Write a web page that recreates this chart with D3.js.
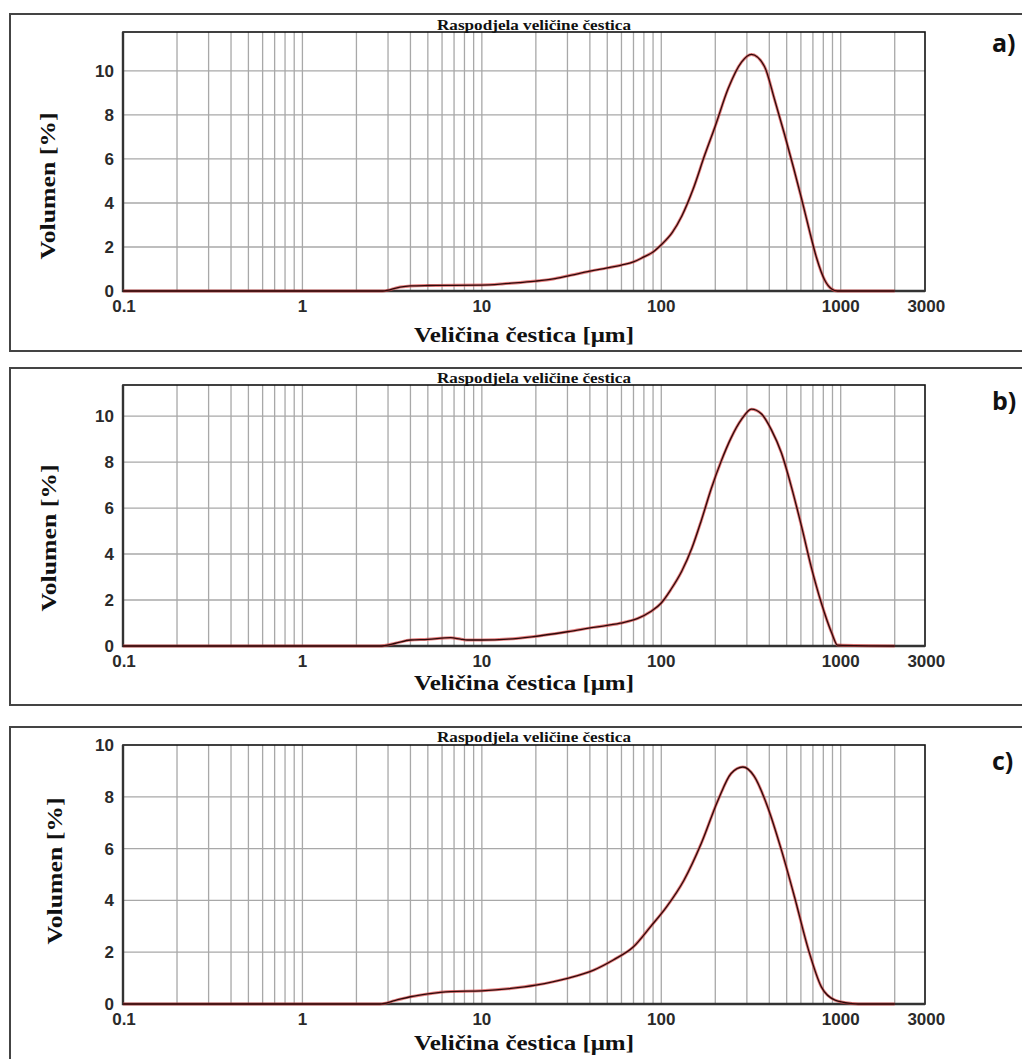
<!DOCTYPE html>
<html lang="hr">
<head>
  <meta charset="UTF-8">
  <title>Raspodjela veličine čestica</title>
  <script src="https://d3js.org/d3.v7.min.js"></script>
  <style>
    body { margin: 0; background: #fff; }
    .grid line { stroke: #a8a8a8; stroke-width: 1.3px; }
    .tick-label { font-family: 'Liberation Sans', Arial, sans-serif; font-weight: bold; font-size: 17px; fill: #2a2a2a; }
    .serif { font-family: 'Liberation Serif', 'Times New Roman', serif; fill: #111; }
    .letter { font-family: 'Open Sans', 'Liberation Sans', sans-serif; font-weight: 700; font-size: 25px; fill: #111; }
  </style>
</head>
<body>
  <svg width="1022" height="1059"></svg>
  <script>
    // particle size [µm] and volume [%]
    const sizeA = [0.1, 2.8, 3.5, 4, 5, 7, 10, 13, 16, 20, 25, 30, 40, 50, 60, 70, 80, 90, 100, 115, 130, 150, 175, 200, 236, 280, 318, 376, 428, 487, 546, 605, 662, 734, 814, 891, 960, 2000];
    const volA  = [0, 0, 0.18, 0.23, 0.25, 0.26, 0.27, 0.32, 0.38, 0.45, 0.55, 0.68, 0.9, 1.05, 1.18, 1.32, 1.55, 1.77, 2.1, 2.65, 3.4, 4.6, 6.2, 7.5, 9.2, 10.4, 10.75, 10.2, 8.7, 7.1, 5.6, 4.2, 2.9, 1.5, 0.5, 0.09, 0, 0];

    const sizeB = [0.1, 2.7, 3.3, 4, 5, 6.7, 7.6, 8.3, 10, 14, 19, 30, 42, 59, 74, 87, 100, 113, 130, 148, 167, 190, 216, 245, 280, 318, 361, 411, 467, 532, 605, 687, 780, 891, 960, 2000];
    const volB  = [0, 0, 0.12, 0.26, 0.29, 0.36, 0.3, 0.26, 0.26, 0.3, 0.4, 0.62, 0.81, 0.99, 1.2, 1.49, 1.87, 2.45, 3.25, 4.25, 5.45, 6.85, 8.05, 9.05, 9.85, 10.3, 10.1, 9.4, 8.4, 6.9, 5.2, 3.4, 1.87, 0.57, 0.04, 0];

    const sizeC = [0.1, 2.7, 3.3, 4, 5, 6.7, 10, 14.5, 20, 30, 42, 54, 70, 87, 107, 134, 167, 208, 245, 285, 329, 392, 467, 553, 662, 780, 930, 1150, 1250, 2000];
    const volC  = [0, 0, 0.14, 0.28, 0.39, 0.48, 0.51, 0.6, 0.73, 0.99, 1.31, 1.7, 2.21, 2.98, 3.75, 4.79, 6.2, 7.9, 8.9, 9.15, 8.8, 7.6, 5.95, 4.13, 2.08, 0.66, 0.15, 0.02, 0, 0];

    const xTicks = [0.1, 1, 10, 100, 1000, 3000];
    const xGrid = [];
    [0.1, 1, 10, 100, 1000].forEach(d => { for (let k = 1; k <= 9; k++) { const v = +(d * k).toPrecision(3); if (v <= 2000) xGrid.push(v); } });
    const yTicksAB = [0, 2, 4, 6, 8, 10];
    const yTicksC = [0, 2, 4, 6, 8, 10];

    const titleText = "Raspodjela veličine čestica";
    const xLabel = "Veličina čestica [μm]";
    const yLabel = "Volumen [%]";

    const panels = [
      { size: sizeA, vol: volA, yMax: 11.77, yTicks: yTicksAB, letter: "a)",
        box: [14, 351], plot: [32, 291], titleY: 30, xLabelY: 342, letterY: 52, yLabelX: 47, yLabelY: 186 },
      { size: sizeB, vol: volB, yMax: 11.35, yTicks: yTicksAB, letter: "b)",
        box: [368, 705], plot: [385, 646], titleY: 383, xLabelY: 690, letterY: 410, yLabelX: 48, yLabelY: 538 },
      { size: sizeC, vol: volC, yMax: 10, yTicks: yTicksC, letter: "c)",
        box: [727, 1080], plot: [745, 1004], titleY: 742, xLabelY: 1050, letterY: 770, yLabelX: 54, yLabelY: 871 }
    ];

    const svg = d3.select("svg");
    const left = 123, right = 925;

    panels.forEach(p => {
      const g = svg.append("g");
      const x = d3.scaleLog().domain([0.1, 2950]).range([left, right]);
      const y = d3.scaleLinear().domain([0, p.yMax]).range([p.plot[1], p.plot[0]]);

      // outer frame
      g.append("rect")
        .attr("x", 10).attr("y", p.box[0])
        .attr("width", 1040).attr("height", p.box[1] - p.box[0])
        .attr("fill", "none").attr("stroke", "#444").attr("stroke-width", 2);

      // grid
      const grid = g.append("g").attr("class", "grid");
      grid.selectAll("line.v").data(xGrid).join("line")
        .attr("class", "v")
        .attr("x1", d => x(d)).attr("x2", d => x(d))
        .attr("y1", p.plot[0]).attr("y2", p.plot[1]);
      grid.selectAll("line.h").data(p.yTicks.filter(d => d > 0 && d < p.yMax)).join("line")
        .attr("class", "h")
        .attr("x1", left).attr("x2", right)
        .attr("y1", d => y(d)).attr("y2", d => y(d));

      // plot frame
      g.append("rect")
        .attr("x", left).attr("y", p.plot[0])
        .attr("width", right - left).attr("height", p.plot[1] - p.plot[0])
        .attr("fill", "none").attr("stroke", "#111").attr("stroke-width", 1.6);
      g.append("path")
        .attr("d", `M${left},${p.plot[0]}V${p.plot[1]}H${right}`)
        .attr("fill", "none").attr("stroke", "#333").attr("stroke-width", 2.4);

      // curve
      const pts = p.size.map((s, i) => [s, p.vol[i]]);
      const line = d3.line().x(d => x(d[0])).y(d => y(d[1])).curve(d3.curveMonotoneX);
      g.append("path").datum(pts).attr("d", line)
        .attr("fill", "none").attr("stroke", "#d84848").attr("stroke-width", 3).attr("stroke-opacity", 0.7);
      g.append("path").datum(pts).attr("d", line)
        .attr("fill", "none").attr("stroke", "#2e0a0a").attr("stroke-width", 1.3);

      // tick labels
      g.selectAll("text.yt").data(p.yTicks).join("text")
        .attr("class", "tick-label yt")
        .attr("x", 114).attr("y", d => y(d) + 6)
        .attr("text-anchor", "end")
        .text(d => d);
      g.selectAll("text.xt").data(xTicks).join("text")
        .attr("class", "tick-label xt")
        .attr("x", d => x(d) + (d === 0.1 ? 1 : 0)).attr("y", p.plot[1] + 21)
        .attr("text-anchor", "middle")
        .text(d => d);

      // titles
      g.append("text").attr("class", "serif")
        .attr("x", 534).attr("y", p.titleY)
        .attr("text-anchor", "middle")
        .attr("font-size", 15).attr("font-weight", 600)
        .attr("textLength", 194).attr("lengthAdjust", "spacingAndGlyphs")
        .text(titleText);
      g.append("text").attr("class", "serif")
        .attr("x", 524).attr("y", p.xLabelY)
        .attr("text-anchor", "middle")
        .attr("font-size", 22).attr("font-weight", "bold")
        .attr("textLength", 220).attr("lengthAdjust", "spacingAndGlyphs")
        .text(xLabel);
      g.append("text").attr("class", "serif")
        .attr("transform", `translate(${p.yLabelX + 8},${p.yLabelY}) rotate(-90)`)
        .attr("text-anchor", "middle")
        .attr("font-size", 22).attr("font-weight", "bold")
        .attr("textLength", 147).attr("lengthAdjust", "spacingAndGlyphs")
        .text(yLabel);
      g.append("text").attr("class", "letter")
        .attr("x", 992).attr("y", p.letterY)
        .text(p.letter);
    });
  </script>
</body>
</html>
